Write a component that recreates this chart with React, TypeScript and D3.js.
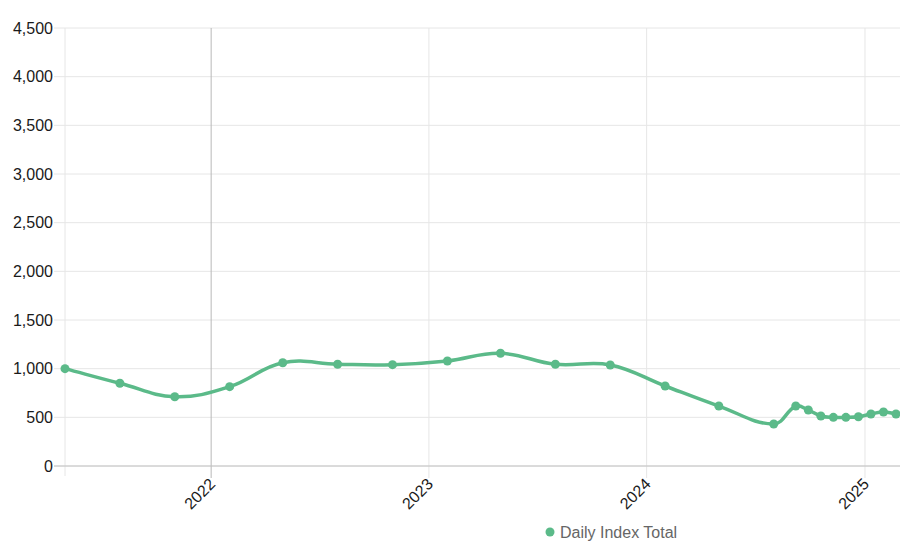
import React, { useEffect, useRef } from "react";
import * as d3 from "d3";

// Daily index total, sampled dates
const dates = [
  "2021-05-01", "2021-08-01", "2021-11-01", "2022-02-01", "2022-05-01", "2022-08-01",
  "2022-11-01", "2023-02-01", "2023-05-01", "2023-08-01", "2023-11-01", "2024-02-01",
  "2024-05-01", "2024-08-01", "2024-09-07", "2024-09-28", "2024-10-19", "2024-11-09",
  "2024-11-30", "2024-12-21", "2025-01-11", "2025-02-01", "2025-02-22",
];
const values = [
  1000, 850, 712, 815, 1061, 1045, 1041, 1079, 1158, 1045, 1038, 822, 616, 432, 616, 575,
  514, 500, 500, 506, 534, 555, 534,
];
const yTicks = [0, 500, 1000, 1500, 2000, 2500, 3000, 3500, 4000, 4500];
const yearTicks = ["2022", "2023", "2024", "2025"];
const highlightYear = "2022";
const seriesName = "Daily Index Total";

const colors = {
  line: "#5bba89",
  grid: "#e6e6e6",
  gridStrong: "#b8b8b8",
  axis: "#c2c2c2",
  text: "#1a1a1a",
  legend: "#666",
};

const W = 900;
const H = 550;
const margin = { top: 28, right: 4, bottom: 84, left: 65 };
const font = "'Liberation Sans', Arial, Helvetica, sans-serif";

// spline like chart.js (tension 0.4, distance weighted control points)
const splineCurve = (tension: number) => (context: any) => {
  let pts: [number, number][] = [];
  return {
    areaStart() {},
    areaEnd() {},
    lineStart() {
      pts = [];
    },
    point(x: number, y: number) {
      pts.push([x, y]);
    },
    lineEnd() {
      const n = pts.length;
      if (!n) return;
      const cps = pts.map((cur, i) => {
        const prev = pts[Math.max(i - 1, 0)];
        const next = pts[Math.min(i + 1, n - 1)];
        const d01 = Math.hypot(cur[0] - prev[0], cur[1] - prev[1]);
        const d12 = Math.hypot(next[0] - cur[0], next[1] - cur[1]);
        let s01 = d01 / (d01 + d12);
        let s12 = d12 / (d01 + d12);
        if (isNaN(s01)) s01 = 0;
        if (isNaN(s12)) s12 = 0;
        const fa = tension * s01;
        const fb = tension * s12;
        return {
          p: [cur[0] - fa * (next[0] - prev[0]), cur[1] - fa * (next[1] - prev[1])],
          n: [cur[0] + fb * (next[0] - prev[0]), cur[1] + fb * (next[1] - prev[1])],
        };
      });
      context.moveTo(pts[0][0], pts[0][1]);
      for (let i = 1; i < n; i++) {
        context.bezierCurveTo(
          cps[i - 1].n[0], cps[i - 1].n[1],
          cps[i].p[0], cps[i].p[1],
          pts[i][0], pts[i][1]
        );
      }
    },
  };
};

const App = () => {
  const ref = useRef<SVGSVGElement>(null);

  useEffect(() => {
    const svg = d3.select(ref.current);
    svg.selectAll("*").remove();

    const parse = d3.timeParse("%Y-%m-%d");
    const data = dates.map((d, i) => ({ date: parse(d) as Date, value: values[i] }));

    const x = d3
      .scaleTime()
      .domain(d3.extent(data, (d) => d.date) as [Date, Date])
      .range([margin.left, W - margin.right]);
    const y = d3
      .scaleLinear()
      .domain([0, 4500])
      .range([H - margin.bottom, margin.top]);

    const g = svg.append("g").attr("font-family", font);

    // horizontal grid + y ticks
    g.selectAll("line.hgrid")
      .data(yTicks)
      .enter()
      .append("line")
      .attr("x1", margin.left - 11)
      .attr("x2", W)
      .attr("y1", (d) => y(d))
      .attr("y2", (d) => y(d))
      .attr("stroke", colors.grid)
      .attr("stroke-width", 1);

    g.selectAll("text.ylab")
      .data(yTicks)
      .enter()
      .append("text")
      .attr("x", margin.left - 12)
      .attr("y", (d) => y(d))
      .attr("dy", "0.36em")
      .attr("text-anchor", "end")
      .attr("font-size", 16)
      .attr("fill", colors.text)
      .text((d) => d3.format(",")(d));

    // vertical grid at years
    const years = yearTicks.map((t) => ({ label: t, date: parse(t + "-01-01") as Date }));
    g.selectAll("line.vgrid")
      .data(years)
      .enter()
      .append("line")
      .attr("x1", (d) => x(d.date))
      .attr("x2", (d) => x(d.date))
      .attr("y1", margin.top)
      .attr("y2", H - margin.bottom + 12)
      .attr("stroke", (d) => (d.label === highlightYear ? colors.gridStrong : colors.grid))
      .attr("stroke-width", 1);

    // axis lines
    g.append("line")
      .attr("x1", margin.left)
      .attr("x2", margin.left)
      .attr("y1", margin.top)
      .attr("y2", H - margin.bottom + 10)
      .attr("stroke", colors.grid);
    g.append("line")
      .attr("x1", margin.left - 11)
      .attr("x2", W)
      .attr("y1", H - margin.bottom)
      .attr("y2", H - margin.bottom)
      .attr("stroke", colors.axis);

    g.selectAll("text.xlab")
      .data(years)
      .enter()
      .append("text")
      .attr("transform", (d) => `translate(${x(d.date) + 1},${H - margin.bottom + 15}) rotate(-45)`)
      .attr("text-anchor", "end")
      .attr("dy", "0.36em")
      .attr("font-size", 16)
      .attr("fill", colors.text)
      .text((d) => d.label);

    // the series
    const line = d3
      .line<{ date: Date; value: number }>()
      .x((d) => x(d.date))
      .y((d) => y(d.value))
      .curve(splineCurve(0.4) as any);

    g.append("path")
      .datum(data)
      .attr("d", line)
      .attr("fill", "none")
      .attr("stroke", colors.line)
      .attr("stroke-width", 3.5);

    g.selectAll("circle.pt")
      .data(data)
      .enter()
      .append("circle")
      .attr("cx", (d) => x(d.date))
      .attr("cy", (d) => y(d.value))
      .attr("r", 4.5)
      .attr("fill", colors.line);

    // legend
    const legend = g.append("g").attr("transform", `translate(550,532)`);
    legend.append("circle").attr("r", 4.5).attr("fill", colors.line);
    legend
      .append("text")
      .attr("x", 10)
      .attr("dy", "0.36em")
      .attr("font-size", 16)
      .attr("fill", colors.legend)
      .text(seriesName);
  }, []);

  return (
    <svg
      ref={ref}
      width={W}
      height={H}
      style={{ position: "absolute", left: 0, top: 0, background: "#fff" }}
    />
  );
};

export default App;
